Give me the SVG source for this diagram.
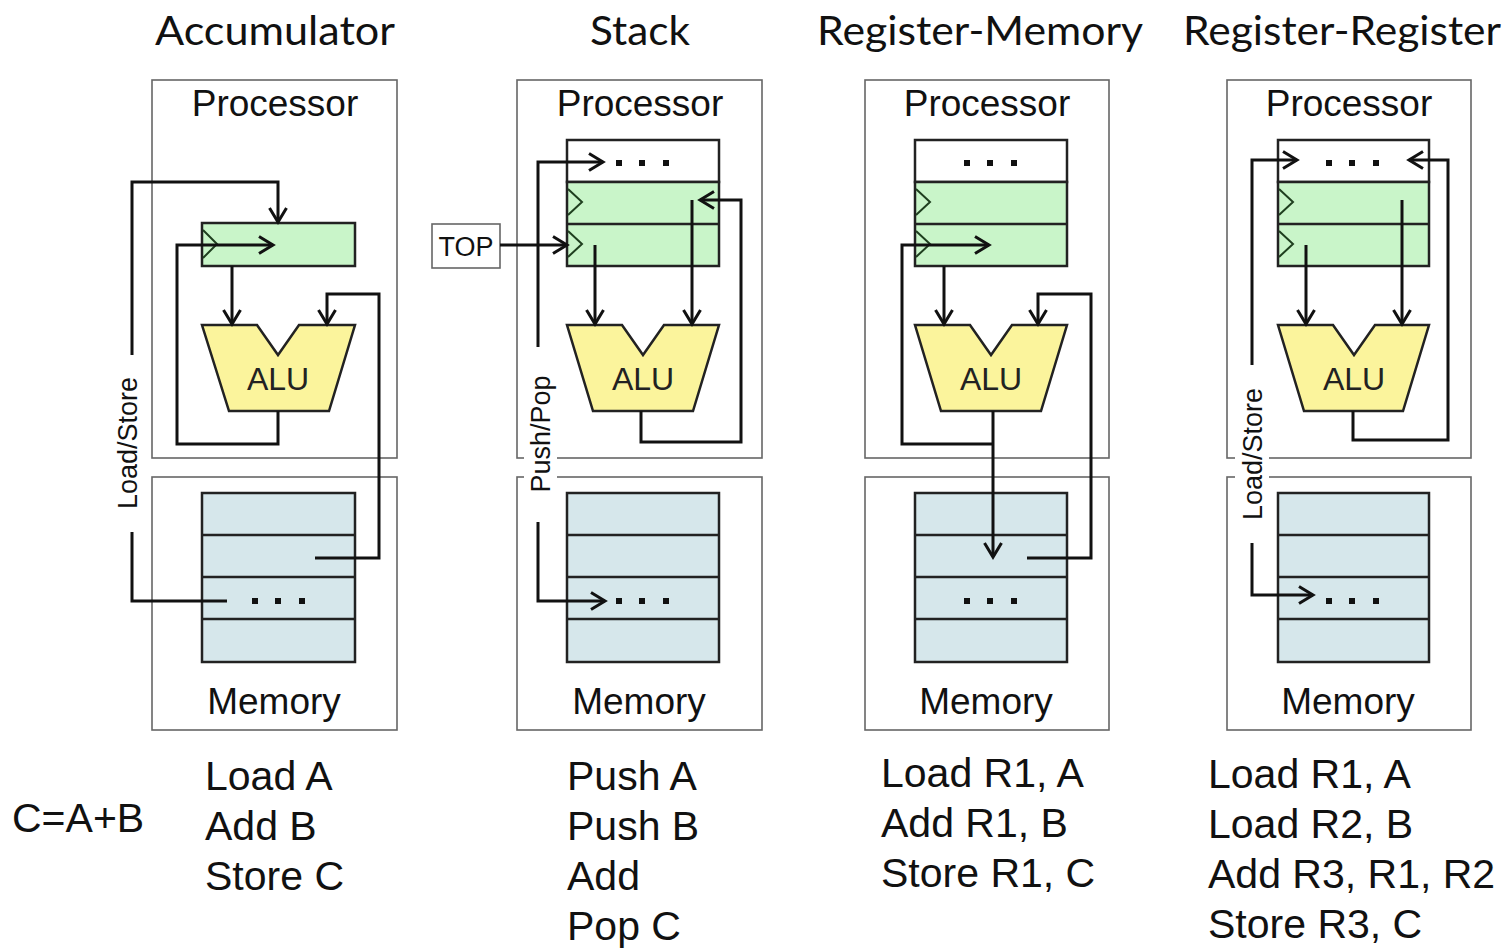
<svg xmlns="http://www.w3.org/2000/svg" width="1507" height="948" viewBox="0 0 1507 948">
<style>
  .title{font-family:Lato,"Open Sans",sans-serif;font-size:40px;fill:#111;text-anchor:middle}
  .lbl{font-family:"Liberation Sans",Arial,sans-serif;font-size:37px;fill:#111;text-anchor:middle}
  .code{font-family:"Liberation Sans",Arial,sans-serif;font-size:41px;fill:#111}
  .alu-t{font-family:"Liberation Sans",Arial,sans-serif;font-size:32px;fill:#222;text-anchor:middle}
  .side{font-family:"Liberation Sans",Arial,sans-serif;font-size:27px;fill:#111;text-anchor:middle}
  .box{fill:none;stroke:#666;stroke-width:1.6}
  .reg{fill:#c9f5c9;stroke:#222;stroke-width:2.5}
  .regw{fill:#fff;stroke:#222;stroke-width:2.5}
  .mem{fill:#d6e7eb;stroke:#222;stroke-width:2.5}
  .row{stroke:#222;stroke-width:2.5}
  .clk{fill:none;stroke:#1f3f1f;stroke-width:2}
  .alu{fill:#fbf49c;stroke:#222;stroke-width:2.5;stroke-linejoin:miter}
  .dot{fill:#111}
  .wire{fill:none;stroke:#111;stroke-width:3}
  .arr{marker-end:url(#ah)}
  .arr2{marker-start:url(#ah);marker-end:url(#ah)}
  .wbg{fill:#fff}
</style>
<defs>
  <marker id="ah" markerUnits="userSpaceOnUse" markerWidth="24" markerHeight="24" viewBox="0 0 24 24" refX="16" refY="12" orient="auto-start-reverse" overflow="visible">
    <path d="M2,3.5 L16,12 L2,20.5" fill="none" stroke="#111" stroke-width="3"/>
  </marker>
</defs>

<!-- Titles -->
<g id="titles">
  <text class="title" x="275" y="45" textLength="240" lengthAdjust="spacingAndGlyphs">Accumulator</text>
  <text class="title" x="640" y="45" textLength="100" lengthAdjust="spacingAndGlyphs">Stack</text>
  <text class="title" x="980" y="45" textLength="326" lengthAdjust="spacingAndGlyphs">Register-Memory</text>
  <text class="title" x="1342" y="45" textLength="318" lengthAdjust="spacingAndGlyphs">Register-Register</text>
</g>

<!-- Column 1: Accumulator -->
<g id="acc-processor">
  <rect class="box" x="152" y="80" width="245" height="378"/>
  <text class="lbl" x="275" y="116">Processor</text>
</g>
<g id="acc-register">
  <rect class="reg" x="202" y="223" width="153" height="43"/>
  <path class="clk" d="M203,230 L217,244 L203,258"/>
</g>
<g id="acc-alu">
  <polygon class="alu" points="202,325 257,325 278,355 299,325 355,325 329,411 229,411"/>
  <text class="alu-t" x="278" y="390">ALU</text>
</g>
<g id="acc-memory">
  <rect class="box" x="152" y="477" width="245" height="253"/>
  <rect class="mem" x="202" y="493" width="153" height="169"/>
  <line class="row" x1="202" y1="535" x2="355" y2="535"/>
  <line class="row" x1="202" y1="577" x2="355" y2="577"/>
  <line class="row" x1="202" y1="619" x2="355" y2="619"/>
  <rect class="dot" x="252" y="598" width="6" height="6"/>
  <rect class="dot" x="275" y="598" width="6" height="6"/>
  <rect class="dot" x="299" y="598" width="6" height="6"/>
  <text class="lbl" x="274" y="714">Memory</text>
</g>

<!-- Column 2: Stack -->
<g id="stk-processor">
  <rect class="box" x="517" y="80" width="245" height="378"/>
  <text class="lbl" x="640" y="116">Processor</text>
</g>
<g id="stk-registers">
  <rect class="regw" x="567" y="140" width="152" height="42"/>
  <rect class="reg" x="567" y="182" width="152" height="84"/>
  <line class="row" x1="567" y1="224" x2="719" y2="224"/>
  <path class="clk" d="M568,189 L582,202 L568,215"/>
  <path class="clk" d="M568,231 L582,244 L568,257"/>
  <rect class="dot" x="616" y="160" width="6" height="6"/>
  <rect class="dot" x="639" y="160" width="6" height="6"/>
  <rect class="dot" x="663" y="160" width="6" height="6"/>
</g>
<g id="stk-top">
  <rect class="box" x="432" y="224" width="68" height="44"/>
  <text x="466" y="256" style="font-family:'Liberation Sans',Arial,sans-serif;font-size:27px;fill:#111;text-anchor:middle">TOP</text>
</g>
<g id="stk-alu">
  <polygon class="alu" points="567,325 622,325 643,355 664,325 719,325 693,411 593,411"/>
  <text class="alu-t" x="643" y="390">ALU</text>
</g>
<g id="stk-memory">
  <rect class="box" x="517" y="477" width="245" height="253"/>
  <rect class="mem" x="567" y="493" width="152" height="169"/>
  <line class="row" x1="567" y1="535" x2="719" y2="535"/>
  <line class="row" x1="567" y1="577" x2="719" y2="577"/>
  <line class="row" x1="567" y1="619" x2="719" y2="619"/>
  <rect class="dot" x="616" y="598" width="6" height="6"/>
  <rect class="dot" x="639" y="598" width="6" height="6"/>
  <rect class="dot" x="663" y="598" width="6" height="6"/>
  <text class="lbl" x="639" y="714">Memory</text>
</g>

<!-- Column 3: Register-Memory -->
<g id="rm-processor">
  <rect class="box" x="865" y="80" width="244" height="378"/>
  <text class="lbl" x="987" y="116">Processor</text>
</g>
<g id="rm-registers">
  <rect class="regw" x="915" y="140" width="152" height="42"/>
  <rect class="reg" x="915" y="182" width="152" height="84"/>
  <line class="row" x1="915" y1="224" x2="1067" y2="224"/>
  <path class="clk" d="M916,189 L930,202 L916,215"/>
  <path class="clk" d="M916,231 L930,244 L916,257"/>
  <rect class="dot" x="964" y="160" width="6" height="6"/>
  <rect class="dot" x="987" y="160" width="6" height="6"/>
  <rect class="dot" x="1011" y="160" width="6" height="6"/>
</g>
<g id="rm-alu">
  <polygon class="alu" points="915,325 970,325 991,355 1012,325 1067,325 1041,411 941,411"/>
  <text class="alu-t" x="991" y="390">ALU</text>
</g>
<g id="rm-memory">
  <rect class="box" x="865" y="477" width="244" height="253"/>
  <rect class="mem" x="915" y="493" width="152" height="169"/>
  <line class="row" x1="915" y1="535" x2="1067" y2="535"/>
  <line class="row" x1="915" y1="577" x2="1067" y2="577"/>
  <line class="row" x1="915" y1="619" x2="1067" y2="619"/>
  <rect class="dot" x="964" y="598" width="6" height="6"/>
  <rect class="dot" x="987" y="598" width="6" height="6"/>
  <rect class="dot" x="1011" y="598" width="6" height="6"/>
  <text class="lbl" x="986" y="714">Memory</text>
</g>

<!-- Column 4: Register-Register -->
<g id="rr-processor">
  <rect class="box" x="1227" y="80" width="244" height="378"/>
  <text class="lbl" x="1349" y="116">Processor</text>
</g>
<g id="rr-registers">
  <rect class="regw" x="1278" y="140" width="151" height="42"/>
  <rect class="reg" x="1278" y="182" width="151" height="84"/>
  <line class="row" x1="1278" y1="224" x2="1429" y2="224"/>
  <path class="clk" d="M1279,189 L1293,202 L1279,215"/>
  <path class="clk" d="M1279,231 L1293,244 L1279,257"/>
  <rect class="dot" x="1326" y="160" width="6" height="6"/>
  <rect class="dot" x="1349" y="160" width="6" height="6"/>
  <rect class="dot" x="1373" y="160" width="6" height="6"/>
</g>
<g id="rr-alu">
  <polygon class="alu" points="1278,325 1333,325 1354,355 1375,325 1429,325 1403,411 1304,411"/>
  <text class="alu-t" x="1354" y="390">ALU</text>
</g>
<g id="rr-memory">
  <rect class="box" x="1227" y="477" width="244" height="253"/>
  <rect class="mem" x="1278" y="493" width="151" height="169"/>
  <line class="row" x1="1278" y1="535" x2="1429" y2="535"/>
  <line class="row" x1="1278" y1="577" x2="1429" y2="577"/>
  <line class="row" x1="1278" y1="619" x2="1429" y2="619"/>
  <rect class="dot" x="1326" y="598" width="6" height="6"/>
  <rect class="dot" x="1349" y="598" width="6" height="6"/>
  <rect class="dot" x="1373" y="598" width="6" height="6"/>
  <text class="lbl" x="1348" y="714">Memory</text>
</g>

<!-- Connectors -->
<g id="connectors">
  <!-- Accumulator -->
  <path class="wire arr" d="M227,601 H132 V182 H278 V222"/>
  <path class="wire arr" d="M232,266 V324"/>
  <path class="wire arr" d="M278,411 V444 H177 V245 H273"/>
  <path class="wire arr" d="M315,558 H379 V294 H327 V324"/>
  <!-- Stack -->
  <path class="wire arr2" d="M603,162 H538 V601 H605"/>
  <path class="wire arr" d="M500,245 H567"/>
  <path class="wire arr" d="M595,245 V324"/>
  <path class="wire arr" d="M692,200 V324"/>
  <path class="wire arr" d="M641,411 V442 H741 V200 H700"/>
  <!-- Register-Memory -->
  <path class="wire arr" d="M944,266 V324"/>
  <path class="wire arr" d="M1027,558 H1091 V294 H1038 V324"/>
  <path class="wire arr" d="M993,411 V557"/>
  <path class="wire arr" d="M993,444 H902 V245 H989"/>
  <!-- Register-Register -->
  <path class="wire arr2" d="M1297,160 H1252 V595 H1313"/>
  <path class="wire arr" d="M1306,245 V324"/>
  <path class="wire arr" d="M1402,200 V324"/>
  <path class="wire arr" d="M1353,411 V440 H1448 V160 H1409"/>
</g>

<!-- Rotated side labels -->
<g id="label-acc-loadstore">
  <rect class="wbg" x="113" y="355" width="32" height="177"/>
  <text class="side" transform="translate(137,443) rotate(-90)">Load/Store</text>
</g>
<g id="label-stk-pushpop">
  <rect class="wbg" x="524" y="347" width="33" height="175"/>
  <text class="side" transform="translate(550,434) rotate(-90)">Push/Pop</text>
</g>
<g id="label-rr-loadstore">
  <rect class="wbg" x="1235" y="365" width="34" height="178"/>
  <text class="side" transform="translate(1262,454) rotate(-90)">Load/Store</text>
</g>

<!-- Code -->
<g id="code">
  <text class="code" x="12" y="832">C=A+B</text>
  <text class="code" x="205" y="790">Load A</text>
  <text class="code" x="205" y="840">Add B</text>
  <text class="code" x="205" y="890">Store C</text>
  <text class="code" x="567" y="790">Push A</text>
  <text class="code" x="567" y="840">Push B</text>
  <text class="code" x="567" y="890">Add</text>
  <text class="code" x="567" y="940">Pop C</text>
  <text class="code" x="881" y="787">Load R1, A</text>
  <text class="code" x="881" y="837">Add R1, B</text>
  <text class="code" x="881" y="887">Store R1, C</text>
  <text class="code" x="1208" y="788">Load R1, A</text>
  <text class="code" x="1208" y="838">Load R2, B</text>
  <text class="code" x="1208" y="888">Add R3, R1, R2</text>
  <text class="code" x="1208" y="938">Store R3, C</text>
</g>
</svg>
